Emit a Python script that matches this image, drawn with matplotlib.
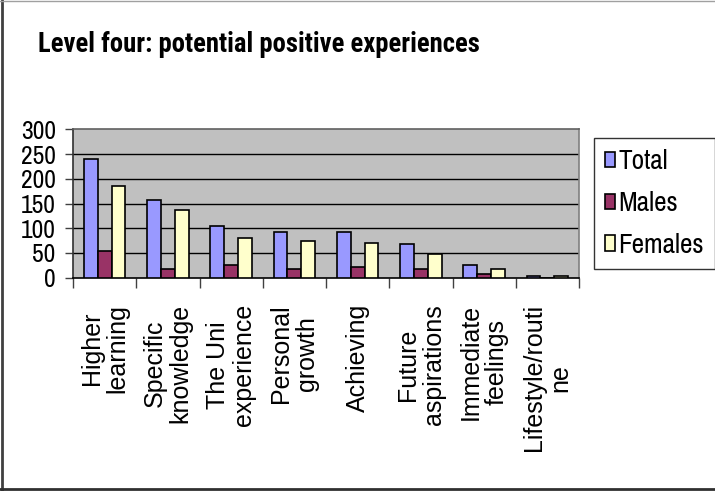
import matplotlib
matplotlib.use("Agg")
import matplotlib.pyplot as plt
import numpy as np
from matplotlib.lines import Line2D

categories = ["Higher\nlearning", "Specific\nknowledge", "The Uni\nexperience",
              "Personal\ngrowth", "Achieving", "Future\naspirations",
              "Immediate\nfeelings", "Lifestyle/routi\nne"]
series_names = ["Total", "Males", "Females"]
total = [241, 157, 105, 92, 92, 69, 26, 3]
males = [54, 17, 25, 18, 21, 18, 8, 0]
females = [186, 138, 80, 74, 70, 47, 18, 3]
yticks = [0, 50, 100, 150, 200, 250, 300]
title = "Level four: potential positive experiences"

colors = ["#9999FF", "#993366", "#FFFFCC"]
REG = ["Liberation Sans", "DejaVu Sans"]
NARROW = ["Archivo Narrow", "Liberation Sans", "DejaVu Sans"]
TITLEF = ["Roboto Condensed", "Liberation Sans", "DejaVu Sans"]

W, H = 715, 491
fig = plt.figure(figsize=(W / 100, H / 100), dpi=100)
fig.patch.set_facecolor("white")

ax = fig.add_axes([73 / W, 1 - 277.7 / H, (579 - 73) / W, (277.7 - 129.5) / H])
ax.set_facecolor("#C0C0C0")

x = np.arange(len(categories))
bw = 0.22
for i, (vals, c, name) in enumerate(zip([total, males, females], colors, series_names)):
    ax.bar(x + (i - 1) * bw, vals, width=bw, color=c, edgecolor="black",
           linewidth=1.2, label=name, zorder=3)

ax.set_xlim(-0.5, len(categories) - 0.5)
ax.set_ylim(0, 300)
ax.set_yticks(yticks)
ax.set_yticklabels([str(v) for v in yticks], fontfamily=NARROW, fontsize=18)
ax.tick_params(axis="y", direction="out", length=5.5, width=1, pad=7, color="#404040")
for v in yticks[1:-1]:
    ax.axhline(v, color="black", linewidth=1, zorder=1)

ax.set_xticks(x)
ax.set_xticklabels(categories, rotation=90, fontfamily=REG, fontsize=18,
                   ha="center", va="top", multialignment="center", linespacing=1.1)
ax.tick_params(axis="x", which="major", length=0, pad=19)
ax.set_xticks(np.arange(len(categories) + 1) - 0.5, minor=True)
ax.tick_params(axis="x", which="minor", direction="out", length=7, width=1, color="#404040")

ax.spines["top"].set_color("#606060")
ax.spines["right"].set_color("#808080")
ax.spines["left"].set_color("#303030")
ax.spines["bottom"].set_color("black")
for s in ax.spines.values():
    s.set_linewidth(1.2)

ttl = fig.text(258.5 / W, 1 - 44 / H, title, ha="center", va="center",
               fontsize=20, fontweight="bold", fontfamily=TITLEF)

# fit text sizes to the reference's measured widths
fig.canvas.draw()
r = fig.canvas.get_renderer()
ttl.set_fontsize(20 * 440 / ttl.get_window_extent(r).width)
ylab = ax.get_yticklabels()
w300 = ylab[-1].get_window_extent(r).width
ysize = 18 * 35 / w300
for t in ylab:
    t.set_fontsize(ysize)

probe = fig.text(0, 0, "Females", fontfamily=NARROW, fontsize=19.5)
fem_w = probe.get_window_extent(r).width
probe.remove()
legsize = 19.5 * 86 / fem_w

leg = fig.legend(loc="upper left", bbox_to_anchor=(594 / W, 1 - 138 / H),
                 bbox_transform=fig.transFigure, borderaxespad=0,
                 prop={"family": NARROW, "size": legsize},
                 frameon=True, fancybox=False, edgecolor="black",
                 handlelength=0.37, handleheight=0.48, handletextpad=0.12,
                 borderpad=0.4, labelspacing=0.62)
leg.get_frame().set_linewidth(1.0)

fig.add_artist(Line2D([1.5 / W, 1.5 / W], [0, 1], transform=fig.transFigure,
                      color="#404040", linewidth=2))
fig.add_artist(Line2D([0, 1], [1 - 489 / H, 1 - 489 / H], transform=fig.transFigure,
                      color="#303030", linewidth=2))
fig.add_artist(Line2D([0, 1], [1 - 0.5 / H, 1 - 0.5 / H], transform=fig.transFigure,
                      color="#A0A0A0", linewidth=1))

fig.savefig("out.png", dpi=100, facecolor="white")
